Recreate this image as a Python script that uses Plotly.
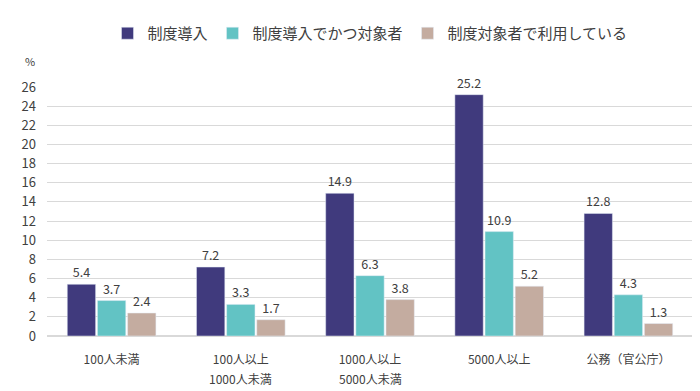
import plotly.graph_objects as go

categories = ["100人未満", "100人以上", "1000人以上", "5000人以上", "公務（官公庁）"]
categories_line2 = ["", "1000人未満", "5000人未満", "", ""]
series_names = ["制度導入", "制度導入でかつ対象者", "制度対象者で利用している"]
s1 = [5.4, 7.2, 14.9, 25.2, 12.8]
s2 = [3.7, 3.3, 6.3, 10.9, 4.3]
s3 = [2.4, 1.7, 3.8, 5.2, 1.3]
colors = ["#403a7d", "#62c3c4", "#c4aca0"]
yticks = list(range(0, 27, 2))

FONT = "Noto Sans CJK JP, Noto Sans, sans-serif"

fig = go.Figure()
for name, vals, c in zip(series_names, [s1, s2, s3], colors):
    fig.add_trace(go.Bar(
        x=categories, y=vals, name=name, marker_color=c,
        text=[f"{v:.1f}" for v in vals], textposition="outside",
        textfont=dict(size=12.5, color="#404040", family=FONT),
        cliponaxis=False,
    ))

annotations = [dict(text="%", xref="paper", yref="paper", x=-0.015, y=1.105,
                    showarrow=False, font=dict(size=11, color="#404040"),
                    xanchor="right", yanchor="middle")]
for cat, l2 in zip(categories, categories_line2):
    if l2:
        annotations.append(dict(text=l2, x=cat, xref="x", yref="paper", y=-0.172,
                                showarrow=False, yanchor="middle",
                                font=dict(size=12, color="#404040")))

fig.update_layout(
    width=700, height=391,
    margin=dict(l=39, r=15, t=79, b=63, autoexpand=False),
    paper_bgcolor="white", plot_bgcolor="white",
    barmode="group", bargap=0.3, bargroupgap=0.06,
    font=dict(family=FONT, color="#404040", size=12),
    showlegend=True,
    legend=dict(orientation="h", x=0.5, xanchor="center", y=1.215, yanchor="middle",
                font=dict(size=15, color="#404040"), itemwidth=30, traceorder="normal"),
    xaxis=dict(showgrid=False, showline=True, linecolor="#d9d9d9", ticks="",
               tickfont=dict(size=12, color="#404040"), ticklabelstandoff=13,
               automargin=False),
    yaxis=dict(range=[0, 26], tickvals=yticks, showgrid=True, gridcolor="#d9d9d9",
               zeroline=True, zerolinecolor="#d9d9d9", ticks="",
               tickfont=dict(size=13, color="#404040"), ticklabelstandoff=10,
               automargin=False),
    annotations=annotations,
)
fig.write_html("out.html")
